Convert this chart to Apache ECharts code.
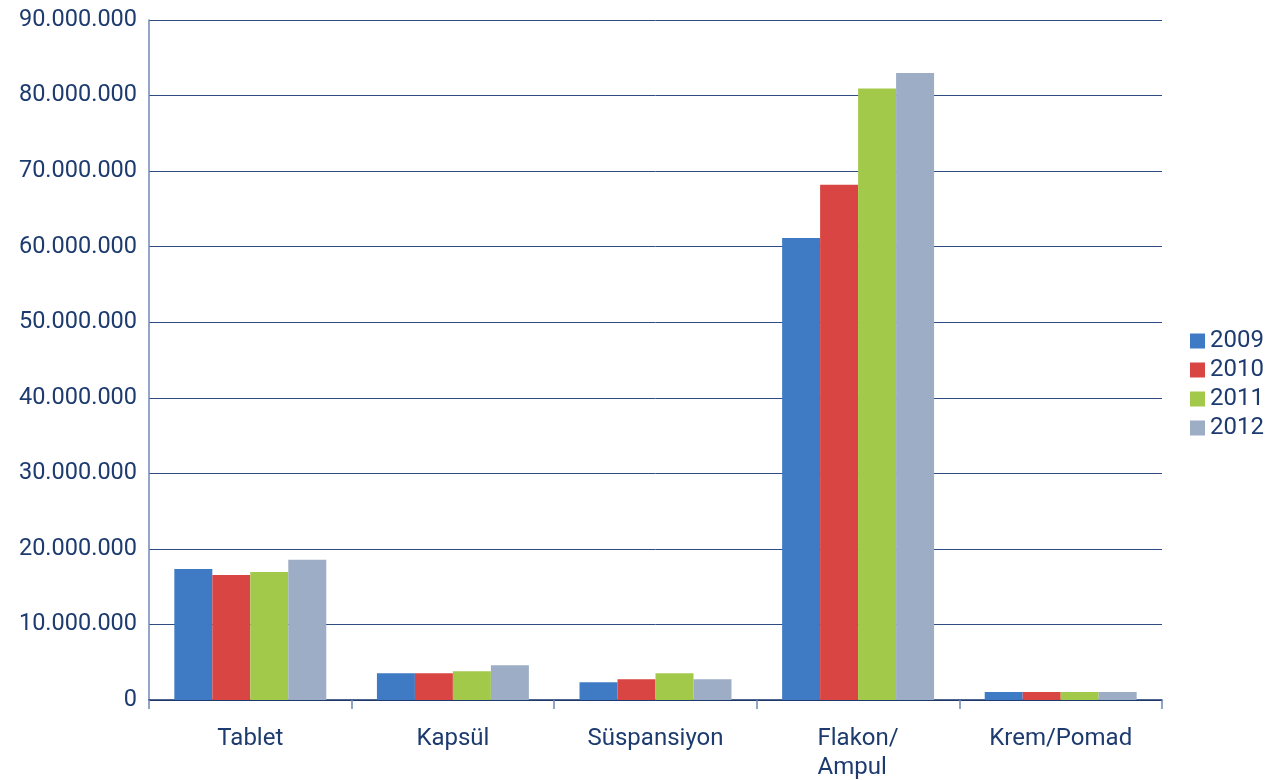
<!DOCTYPE html>
<html>
<head>
<meta charset="utf-8">
<style>
  html, body { margin: 0; padding: 0; background: #fff; }
  #chart { width: 1268px; height: 780px; }
</style>
<script src="https://cdn.jsdelivr.net/npm/echarts@6/dist/echarts.min.js"></script>
</head>
<body>
<div id="chart"></div>
<script>
  const categories = ['Tablet', 'Kapsül', 'Süspansiyon', 'Flakon/\nAmpul', 'Krem/Pomad']
  const years = ['2009', '2010', '2011', '2012']
  const values2009 = [17350000, 3550000, 2350000, 61150000, 1050000]
  const values2010 = [16550000, 3550000, 2750000, 68200000, 1050000]
  const values2011 = [16950000, 3800000, 3550000, 80950000, 1050000]
  const values2012 = [18550000, 4600000, 2750000, 83000000, 1050000]
  const colors = ['#3e7bc4', '#d94542', '#a3c94b', '#9dadc6']

  const textColor = '#1d3b6f'
  const font = 'Roboto, "Noto Sans", sans-serif'

  // 10000000 -> 10.000.000
  function dotted(v) {
    return String(v).replace(/\B(?=(\d{3})+(?!\d))/g, '.')
  }

  const seriesValues = [values2009, values2010, values2011, values2012]

  const chart = echarts.init(document.getElementById('chart'), null, {renderer: 'canvas'})
  chart.setOption({
    animation: false,
    color: colors,
    grid: {
      left: 149,
      right: 106,
      top: 20,
      bottom: 80,
      outerBoundsMode: 'none',
      containLabel: false
    },
    legend: {
      orient: 'vertical',
      left: 1190,
      top: 329,
      padding: 0,
      itemWidth: 15,
      itemHeight: 15,
      itemGap: 5,
      icon: 'rect',
      data: years,
      textStyle: {
        color: textColor,
        fontSize: 24,
        lineHeight: 22,
        fontFamily: font
      }
    },
    xAxis: {
      type: 'category',
      data: categories,
      axisLine: {
        lineStyle: {color: '#1a3567', width: 1.5}
      },
      axisTick: {
        show: true,
        length: 9,
        lineStyle: {color: '#7088b3', width: 1.5}
      },
      axisLabel: {
        interval: 0,
        hideOverlap: false,
        margin: 24,
        color: textColor,
        fontSize: 24,
        fontFamily: font,
        formatter: function (v) {
          return v.split('\n').map(s => '{l|' + s + '}').join('\n')
        },
        rich: {
          l: {
            align: 'left',
            color: textColor,
            fontSize: 24,
            lineHeight: 29,
            fontFamily: font
          }
        }
      }
    },
    yAxis: {
      type: 'value',
      min: 0,
      max: 90000000,
      interval: 10000000,
      axisLine: {
        show: true,
        lineStyle: {color: '#7088b3', width: 1.5}
      },
      axisTick: {show: false},
      splitLine: {
        lineStyle: {color: '#2f4c82', width: 1}
      },
      axisLabel: {
        margin: 12,
        color: textColor,
        fontSize: 23.5,
        fontFamily: font,
        formatter: dotted
      }
    },
    series: years.map((y, i) => ({
      name: y,
      type: 'bar',
      data: seriesValues[i],
      barGap: '0%',
      barCategoryGap: '25%'
    }))
  })
</script>
</body>
</html>
